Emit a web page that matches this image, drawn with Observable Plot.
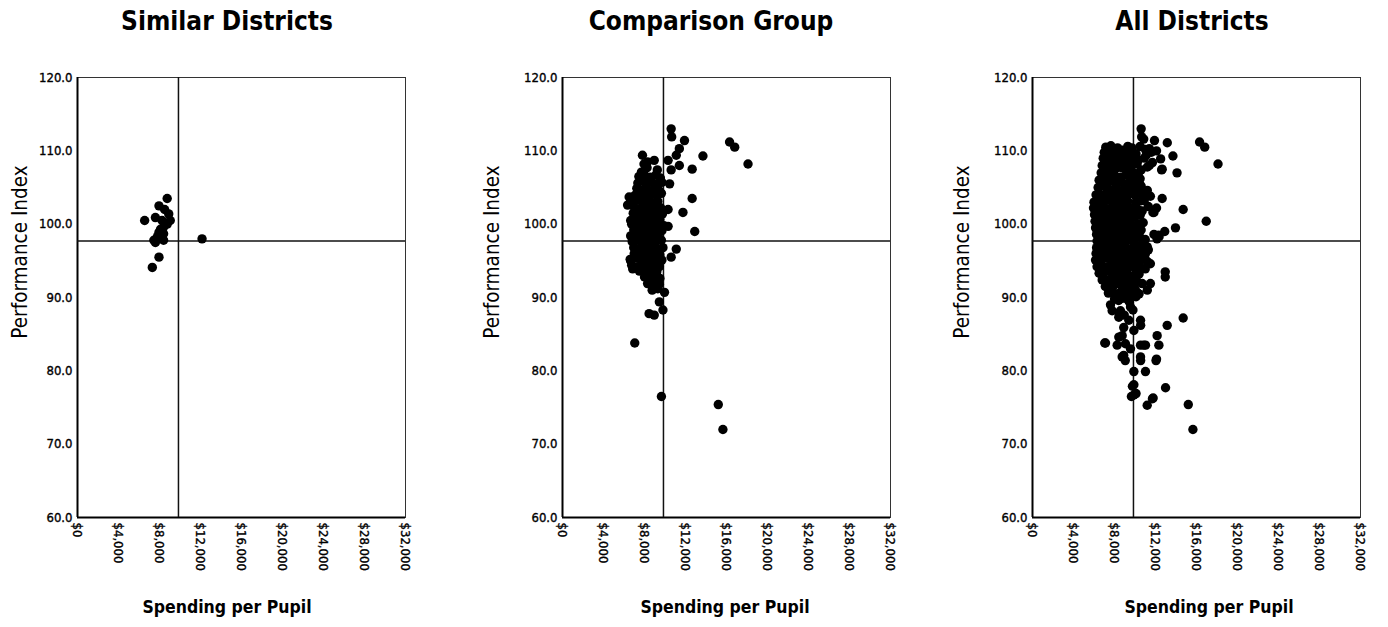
<!DOCTYPE html>
<html><head><meta charset="utf-8">
<script src="https://cdn.jsdelivr.net/npm/d3@7"></script>
<script src="https://cdn.jsdelivr.net/npm/@observablehq/plot@0.6"></script>
<style>
body{margin:0;background:#fff;font-family:"DejaVu Sans Condensed","DejaVu Sans",sans-serif;color:#000}
#wrap{position:relative;width:1388px;height:627px;overflow:hidden;background:#fff}
.title{position:absolute;top:6px;font-weight:bold;font-size:26px;transform:translateX(-50%);white-space:nowrap}
.cap{position:absolute;top:599px;font-weight:bold;font-size:17.5px;transform:translateX(-50%);white-space:nowrap;line-height:1}
.ylab{position:absolute;top:252px;font-size:20.5px;white-space:nowrap;transform:translate(-50%,-50%) rotate(-90deg);line-height:1}
.panel{position:absolute;top:60px}
.panel svg text{stroke:#000;stroke-width:0.35px}
</style></head><body><div id="wrap"></div>
<script>
// ---- data ----
const panelTitles = ["Similar Districts", "Comparison Group", "All Districts"];
const xLabel = "Spending per Pupil";
const yLabel = "Performance Index";
const xTicks = [0, 4000, 8000, 12000, 16000, 20000, 24000, 28000, 32000];
const yTicks = [60, 70, 80, 90, 100, 110, 120];
const meanSpending = 9850;
const meanIndex = 97.7;

// [spending per pupil ($), performance index]
const similarDistricts = [
[6550,100.5],[7600,100.9],[7950,102.5],[8750,103.5],[8250,100.5],[8900,101.4],[9050,100.5],[8400,99.6],
[7950,98.9],[8400,98.7],[7450,97.8],[8400,97.8],[7950,95.5],[7300,94.1],[12150,98.0],[7600,97.5],
[8750,100.0],[8100,99.3],[7800,98.3],[8500,102.0]
];

const comparisonGroup = [
[10600,113.0],[10650,111.9],[11900,111.4],[11400,110.3],[11100,109.4],[13700,109.3],[16300,111.2],[16800,110.5],
[18100,108.2],[12650,107.5],[10600,107.4],[11400,108.0],[10300,108.7],[10450,105.5],[12650,103.5],[11750,101.6],
[10300,102.0],[12900,99.0],[10300,99.7],[11100,96.6],[10600,95.5],[9950,90.7],[9450,89.4],[9800,88.3],
[8450,87.8],[8950,87.6],[7050,83.8],[9650,76.5],[15200,75.4],[15650,72.0],
[7800,109.4],[8950,108.7],[7700,107.1],[6500,103.7],[6350,102.6],[6650,100.5],[6850,98.2],[6650,95.0],
[6850,93.9],[8000,92.8],[9150,91.8],[7350,96.4],
[7950,108.2],[8300,108.5],[8250,107.7],[9250,107.4],
[7450,106.5],[7950,106.8],[8550,106.4],[9100,106.7],[9550,106.3],
[7350,105.6],[7850,105.9],[8250,105.5],[8700,105.8],[9300,105.4],[9700,105.7],
[7250,104.9],[7650,104.6],[8050,104.9],[8450,104.5],[8900,104.8],[9400,104.6],
[7050,103.9],[7550,104.1],[8100,103.8],[8600,104.0],[9200,103.9],[9650,104.2],
[6650,103.1],[7300,103.3],[7800,103.0],[8350,103.2],[8850,102.9],[9300,103.1],
[7000,102.3],[7500,102.1],[8000,102.4],[8550,102.2],[9050,102.5],[9600,102.2],
[6900,101.5],[7350,101.7],[7800,101.4],[8250,101.6],[8700,101.3],[9200,101.6],[9750,101.4],
[7250,100.8],[7700,100.6],[8150,100.9],[8550,100.7],[9050,100.8],[9500,100.6],
[6750,100.0],[7150,99.8],[7600,100.1],[8000,99.9],[8450,100.2],[8900,99.9],[9400,100.0],[9900,99.8],
[6950,99.2],[7400,99.4],[7850,99.1],[8300,99.3],[8750,99.0],[9250,99.2],[9700,99.1],
[6650,98.4],[7050,98.6],[7550,98.3],[8000,98.5],[8450,98.2],[8850,98.4],[9350,98.6],
[6800,97.6],[7250,97.8],[7700,97.5],[8150,97.7],[8600,97.4],[9100,97.6],[9650,97.8],
[6950,96.8],[7450,96.6],[7900,96.9],[8350,96.7],[8800,96.9],[9300,96.6],[9800,96.8],
[7000,96.0],[7550,95.8],[8050,96.1],[8500,95.9],[9000,96.1],[9500,95.8],
[6600,95.2],[7150,95.4],[7700,95.1],[8200,95.3],[8700,95.0],[9250,95.3],[9700,95.1],
[6750,94.4],[7300,94.2],[7900,94.5],[8400,94.3],[8900,94.5],[9450,94.2],
[7500,93.6],[8100,93.4],[8650,93.7],[9200,93.5],
[8450,92.7],[9000,92.9],[9500,92.6],
[8300,91.9],[8800,92.0],[9450,91.8],
[8750,91.0],[9300,91.2]
];

// districts in the state not in the comparison group (besides the similar ones)
const otherDistricts = [
[10850,111.6],[13150,111.1],[12500,108.9],[14100,107.0],[14700,102.0],[16950,100.4],[13950,99.5],[11850,98.6],
[12350,98.3],[11850,101.6],[11300,96.5],[11500,94.6],[12300,98.5],[10550,95.7],[12600,107.4],[12950,93.5],
[12950,92.8],[11500,91.9],[11200,91.0],[10200,90.7],[10400,90.5],
[10500,110.6],[11000,110.2],[11600,109.8],[12100,110.0],[10900,109.0],[11700,108.4],[11200,107.8],[11200,104.6],
[11500,103.8],[10900,103.2],[11300,102.4],[12100,102.2],
[7770,88.2],[8580,88.2],[9560,88.7],[7610,89.0],[8420,87.3],[9400,86.9],[10540,86.9],[9890,85.5],
[8420,84.6],[7120,83.8],[8260,83.5],[9070,83.7],[9560,83.0],[10540,83.5],[11020,83.5],[8750,81.9],
[10540,81.9],[9890,79.9],[11020,79.9],[9890,78.1],[12980,77.7],[9890,76.7],[11770,76.3],[11190,75.3],
[12160,84.8],[12330,83.5],[12100,81.6],[13140,86.2],[14700,87.2],[11700,76.2],[10100,76.9],[9050,81.4],
[10550,81.4],[12050,81.4],[9750,77.9],[8900,82.1],[8750,84.8],[8900,85.9],[10550,86.2],[10850,83.5],
[7150,110.5],[7650,110.7],[7000,109.8],[7400,109.9],[8700,109.7],[9200,109.9],[6900,109.0],[7300,109.1],
[6800,108.0],[7100,108.2],[6700,107.0],[7000,107.2],[6500,106.0],[6800,106.2],[6400,105.0],[6700,105.2],
[6200,104.0],[6500,104.2],[6000,103.0],[6300,103.2],[5950,102.2],[6250,102.0],[6050,101.3],[6350,101.5],
[6100,100.4],[6400,100.6],[6150,99.5],[6450,99.7],[6250,98.6],[6300,97.7],[6550,97.9],[6250,96.8],
[6500,96.6],[6200,96.0],[6500,95.8],[6150,95.1],[6450,95.3],[6300,94.2],[6550,94.0],[6500,93.3],
[6900,93.1],[6800,92.4],[7200,92.2],[7600,92.5],[7100,91.5],[7500,91.3],[7900,91.6],[7400,90.6],
[7800,90.8],[8200,90.5],[8600,90.7],[8000,89.8],[8400,89.6],[8800,89.9],[9300,89.7],
[9300,110.6],[9700,110.4],[9600,109.8],[10100,109.6],[9500,109.0],[10000,109.2],
[9700,108.0],[10200,108.2],[9900,107.0],[10300,106.8],[10000,106.0],[10500,106.2],
[10100,105.0],[10600,105.2],[10000,104.0],[10500,104.2],[10900,103.9],[10100,103.0],[10600,103.2],
[10200,102.0],[10700,101.8],[10000,101.0],[10500,101.2],[10300,100.0],[10800,100.2],[10100,99.0],[10600,99.2],
[10000,98.0],[10500,98.2],[11000,97.9],[10200,97.0],[10700,97.2],[11200,96.9],[10000,96.0],[10500,96.2],
[11000,95.9],[10200,95.0],[10700,95.2],[11200,94.9],[10000,94.0],[10500,94.2],[11000,93.9],[9900,93.0],
[10400,93.2],[9700,92.0],[10200,92.2],[10700,91.9],[9600,91.0],[10000,91.2],[9000,90.3],[9500,90.5],[10100,90.1],
[7800,110.2],[8300,110.4],[8800,110.1],[7600,109.4],[8100,109.3],[8500,109.5],[9000,109.2],[7500,108.6],
[8400,108.8],[9400,108.5],[7300,107.8],[7700,108.0],[8700,107.7],[9100,107.9]
];

const allDistricts = comparisonGroup.concat(similarDistricts, otherDistricts);
const panelData = [similarDistricts, comparisonGroup, allDistricts];

// ---- layout ----
const panelLeft = [0, 485, 955];
const titleX = [227, 711, 1192];
const capX = [227, 725, 1209];
const ylabX = [20, 492, 962];

const wrap = document.getElementById("wrap");
function panel(data) {
  return Plot.plot({
    width: 425, height: 517,
    marginLeft: 77, marginRight: 20, marginTop: 17, marginBottom: 60,
    style: {fontFamily: "'DejaVu Sans Condensed','DejaVu Sans',sans-serif", fontSize: "13px", color: "#000", background: "transparent", overflow: "visible"},
    x: {domain: [xTicks[0], xTicks[xTicks.length-1]], ticks: xTicks, tickFormat: d3.format("$,.0f"), tickRotate: 90, tickSize: 0, tickPadding: 5, label: null},
    y: {domain: [yTicks[0], yTicks[yTicks.length-1]], ticks: yTicks, tickFormat: d3.format(".1f"), tickSize: 0, tickPadding: 5, label: null},
    marks: [
      Plot.frame({stroke: "#333", strokeWidth: 1}),
      Plot.ruleX([xTicks[0]], {stroke: "#000", strokeWidth: 2}),
      Plot.ruleY([yTicks[0]], {stroke: "#000", strokeWidth: 2}),
      Plot.ruleX([meanSpending], {stroke: "#111", strokeWidth: 1.5}),
      Plot.ruleY([meanIndex], {stroke: "#111", strokeWidth: 1.5}),
      Plot.dot(data, {x: d => d[0], y: d => d[1], r: 4.7, fill: "#000"})
    ]
  });
}
panelData.forEach((data, i) => {
  const t = document.createElement("div");
  t.className = "title"; t.style.left = titleX[i] + "px"; t.textContent = panelTitles[i];
  wrap.appendChild(t);
  const p = document.createElement("div");
  p.className = "panel"; p.style.left = panelLeft[i] + "px";
  p.appendChild(panel(data));
  wrap.appendChild(p);
  const yl = document.createElement("div");
  yl.className = "ylab"; yl.style.left = ylabX[i] + "px"; yl.textContent = yLabel;
  wrap.appendChild(yl);
  const c = document.createElement("div");
  c.className = "cap"; c.style.left = capX[i] + "px"; c.textContent = xLabel;
  wrap.appendChild(c);
});
</script>
</body></html>
